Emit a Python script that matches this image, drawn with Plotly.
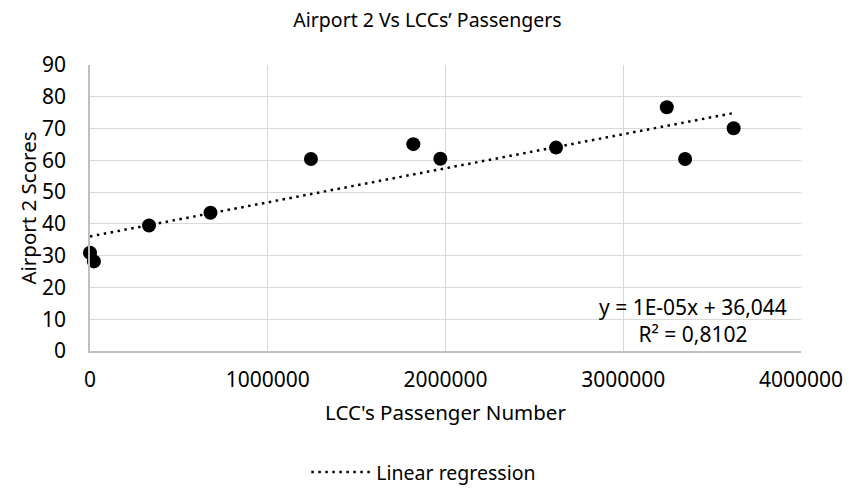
import numpy as np
import plotly.graph_objects as go

# LCC passenger numbers and the matching Airport 2 scores
passengers = [0, 22000, 332000, 678000, 1243000, 1819000, 1971000,
              2622000, 3245000, 3348000, 3621000]
scores = [30.9, 28.2, 39.5, 43.5, 60.4, 65.1, 60.5, 64.0, 76.7, 60.4, 70.1]

x_ticks = [0, 1000000, 2000000, 3000000, 4000000]
y_ticks = [0, 10, 20, 30, 40, 50, 60, 70, 80, 90]

equation_text = "y = 1E-05x + 36,044"
r2_text = "R² = 0,8102"

# least-squares trend line over the data range
slope, intercept = np.polyfit(passengers, scores, 1)
trend_x = [min(passengers), max(passengers)]
trend_y = [slope * v + intercept for v in trend_x]

FONT = "Noto Sans"
FS = 20.5
GRID = "#D9D9D9"
AXIS = "#BFBFBF"

fig = go.Figure()
fig.add_trace(go.Scatter(
    x=passengers, y=scores, mode="markers", cliponaxis=False,
    marker=dict(color="black", size=14, line=dict(width=0)),
    showlegend=False, name="Airport 2",
))
fig.add_trace(go.Scatter(
    x=trend_x, y=trend_y, mode="lines",
    line=dict(color="black", width=2.5, dash="2.5px,4.5px"),
    name="Linear regression", showlegend=True,
))

# trend-line equation and R² as one centred two-line block
fig.add_annotation(
    x=3394000, y=9.6, xref="x", yref="y", xanchor="center", yanchor="middle",
    align="center", text=equation_text + "<br>" + r2_text, showarrow=False,
    font=dict(family=FONT, size=21, color="black"),
)

fig.update_layout(
    width=855, height=504,
    margin=dict(l=90, r=43, t=65, b=142),
    paper_bgcolor="white", plot_bgcolor="white",
    font=dict(family=FONT, size=FS, color="black"),
    title=dict(text="Airport 2 Vs LCCs’ Passengers", x=0.5, xanchor="center",
               y=1 - 20 / 504, yanchor="middle",
               font=dict(family=FONT, size=19.5, color="black")),
    legend=dict(orientation="h", x=0.4695, xanchor="center", y=-0.424,
                yanchor="middle", itemwidth=60,
                font=dict(family=FONT, size=19.5, color="black"),
                bgcolor="rgba(0,0,0,0)"),
    showlegend=True,
)
fig.update_xaxes(
    range=[0, 4000000], tickvals=x_ticks, tickformat="d",
    tickfont=dict(family=FONT, size=21, color="black"),
    showgrid=True, gridcolor=GRID, gridwidth=1.3,
    showline=True, linecolor=AXIS, linewidth=1.5, zeroline=False,
    ticks="outside", ticklen=9, tickcolor="rgba(0,0,0,0)",
    title=dict(text="LCC's Passenger Number", standoff=14,
               font=dict(family=FONT, size=FS, color="black")),
)
fig.update_yaxes(
    range=[0, 90], tickvals=y_ticks,
    tickfont=dict(family=FONT, size=21, color="black"),
    showgrid=True, gridcolor=GRID, gridwidth=1.3,
    showline=True, linecolor=AXIS, linewidth=1.5, zeroline=False,
    ticks="outside", ticklen=18, tickcolor="rgba(0,0,0,0)",
    title=dict(text="Airport 2 Scores", standoff=0,
               font=dict(family=FONT, size=FS, color="black")),
)

fig.write_html("out.html")
